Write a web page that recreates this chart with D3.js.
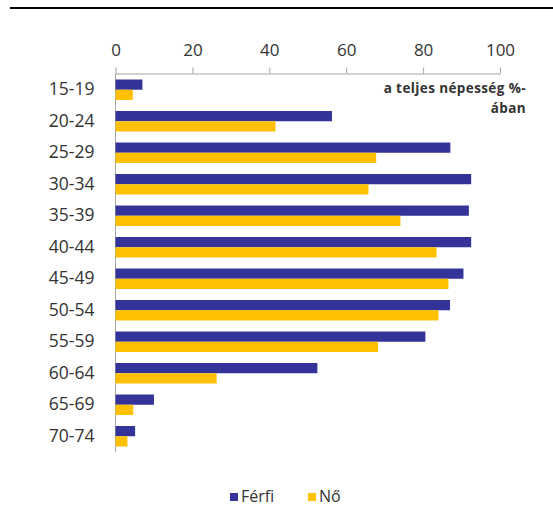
<!DOCTYPE html>
<html><head><meta charset="utf-8">
<script src="https://cdn.jsdelivr.net/npm/d3@7"></script>
<style>body{margin:0;background:#fff;}svg{display:block;font-family:"Open Sans",sans-serif;}</style>
</head><body>
<script>
const categories = ["15-19","20-24","25-29","30-34","35-39","40-44","45-49","50-54","55-59","60-64","65-69","70-74"];
const ferfi = [7.0,56.3,87.1,92.5,91.9,92.5,90.5,87.0,80.6,52.5,10.0,5.1];
const no = [4.5,41.6,67.8,65.8,74.1,83.5,86.6,84.0,68.3,26.3,4.6,3.1];
const seriesNames = ["Férfi","Nő"];
const colors = ["#333399","#FFC000"];
const xTicks = [0,20,40,60,80,100];

const W=553,H=511;
const svg=d3.select("body").append("svg").attr("width",W).attr("height",H);
svg.append("line").attr("x1",10).attr("x2",W).attr("y1",8).attr("y2",8).attr("stroke","#000").attr("stroke-width",2);

const x=d3.scaleLinear().domain([0,100]).range([115.5,500]);
const y=d3.scaleBand().domain(categories).range([74,452]).paddingInner(0.35).paddingOuter(0.175);
const sub=d3.scaleBand().domain([0,1]).range([0,y.bandwidth()]);

const xAxis=svg.append("g").attr("transform","translate(0,73.5)")
  .call(d3.axisTop(x).tickValues(xTicks).tickSize(6).tickPadding(12).tickSizeOuter(0));
xAxis.select(".domain").attr("stroke","#a6a6a6");
xAxis.selectAll(".tick line").attr("stroke","#a6a6a6");
xAxis.selectAll("text").attr("font-size",17).attr("fill","#333").attr("font-family","Open Sans, sans-serif");

const yAxis=svg.append("g").attr("transform","translate(115.5,0)")
  .call(d3.axisLeft(y).tickSize(0).tickPadding(21));
yAxis.select(".domain").attr("stroke","#a6a6a6").attr("d","M0,73.5V452");
yAxis.selectAll("text").attr("font-size",17.5).attr("fill","#333").attr("font-family","Open Sans, sans-serif");

const data=[ferfi,no];
data.forEach((vals,s)=>{
  svg.append("g").selectAll("rect").data(vals).join("rect")
    .attr("x",x(0)).attr("y",(d,i)=>y(categories[i])+sub(s))
    .attr("width",d=>x(d)-x(0)).attr("height",sub.bandwidth())
    .attr("fill",colors[s]);
});

const ann=svg.append("text").attr("text-anchor","end").attr("font-size",13.5).attr("letter-spacing",0.4).attr("font-weight","bold").attr("fill","#333");
ann.append("tspan").attr("x",526).attr("y",93).text("a teljes népesség %-");
ann.append("tspan").attr("x",526).attr("y",113).text("ában");

const leg=svg.append("g");
const legX=[230,308];
seriesNames.forEach((n,i)=>{
  leg.append("rect").attr("x",legX[i]).attr("y",493).attr("width",8).attr("height",8).attr("fill",colors[i]);
  leg.append("text").attr("x",legX[i]+11).attr("y",502).attr("font-size",16).attr("fill","#333").text(n);
});
</script>
</body></html>
